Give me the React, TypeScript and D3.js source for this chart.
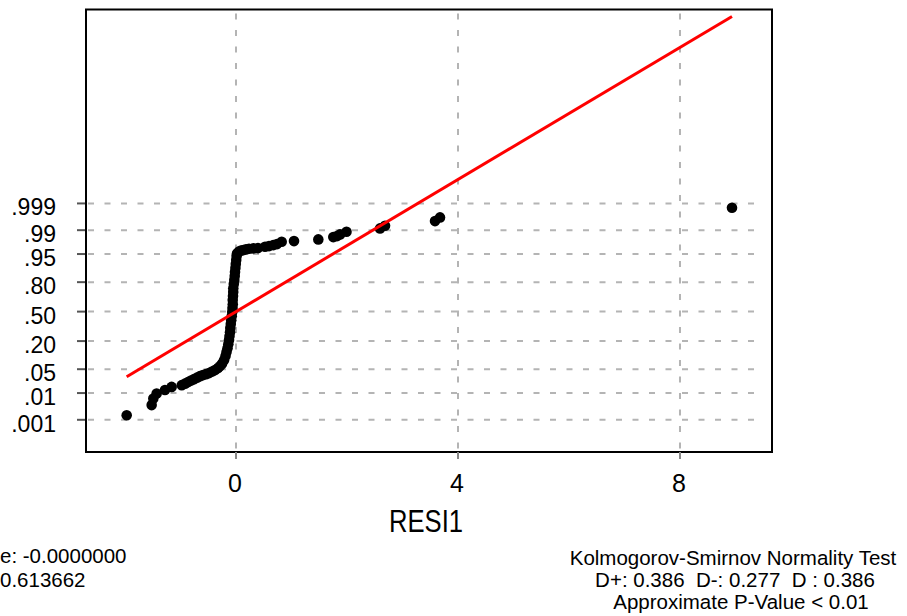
import React from "react";
import * as d3 from "d3";

// Residuals (RESI1) in ascending order with their normal scores
const residuals = [
  -1.97, -1.52, -1.49, -1.43, -1.28, -1.16,
  -0.978, -0.919, -0.865, -0.811, -0.757, -0.703, -0.649, -0.595, -0.541, -0.486,
  -0.432, -0.378, -0.324, -0.288, -0.252, -0.216, -0.189, -0.171, -0.153, -0.139,
  -0.126, -0.117, -0.108, -0.103, -0.094, -0.086, -0.077, -0.068,
  -0.063, -0.058, -0.059, -0.054, -0.05, -0.049, -0.04, -0.031, -0.023, -0.018,
  -0.011, -0.004, 0.004, 0.011, 0.018, 0.054, 0.09, 0.132, 0.18, 0.234, 0.312,
  0.396, 0.523, 0.595, 0.672, 0.739, 0.823, 1.045, 1.483, 1.753, 1.82, 1.874,
  1.991, 2.595, 2.685, 3.586, 3.676, 8.937,
];
const normalScores = [
  -2.96, -2.67, -2.48, -2.34, -2.24, -2.15,
  -2.1, -2.057, -2.014, -1.971, -1.929, -1.886, -1.843, -1.814, -1.786, -1.757,
  -1.714, -1.671, -1.614, -1.557, -1.486, -1.386, -1.271, -1.157, -1.043, -0.929,
  -0.814, -0.7, -0.586, -0.471, -0.357, -0.243, -0.129, -0.014,
  0.1, 0.214, 0.329, 0.443, 0.557, 0.671, 0.786, 0.9, 1.014, 1.129,
  1.243, 1.357, 1.471, 1.586, 1.663, 1.714, 1.743, 1.757, 1.777, 1.794, 1.806,
  1.814, 1.851, 1.871, 1.9, 1.929, 1.994, 2.014, 2.063, 2.129, 2.157, 2.206,
  2.28, 2.377, 2.451, 2.586, 2.691, 2.966,
];

// Fitted normal line
const fitMean = 0;
const fitSigma = 1.06;

// Axis ticks
const xTicks = [0, 4, 8];
const probTicks = [0.001, 0.01, 0.05, 0.2, 0.5, 0.8, 0.95, 0.99, 0.999];
const probTickLabels = [".001", ".01", ".05", ".20", ".50", ".80", ".95", ".99", ".999"];

// Summary text at the foot of the chart (left block runs off the page edge)
const statsLines = ["e: -0.0000000", "0.613662"];
const testLines = [
  "Kolmogorov-Smirnov Normality Test",
  "D+: 0.386  D-: 0.277  D : 0.386",
  "Approximate P-Value < 0.01",
];
const xTitle = "RESI1";

// Inverse standard normal CDF (Acklam's rational approximation)
function normInv(p: number): number {
  const a = [-3.969683028665376e1, 2.209460984245205e2, -2.759285104469687e2, 1.38357751867269e2, -3.066479806614716e1, 2.506628277459239];
  const b = [-5.447609879822406e1, 1.615858368580409e2, -1.556989798598866e2, 6.680131188771972e1, -1.328068155288572e1];
  const c = [-7.784894002430293e-3, -3.223964580411365e-1, -2.400758277161838, -2.549732539343734, 4.374664141464968, 2.938163982698783];
  const d = [7.784695709041462e-3, 3.224671290700398e-1, 2.445134137142996, 3.754408661907416];
  const plow = 0.02425;
  if (p < plow) {
    const q = Math.sqrt(-2 * Math.log(p));
    return (((((c[0] * q + c[1]) * q + c[2]) * q + c[3]) * q + c[4]) * q + c[5]) /
      ((((d[0] * q + d[1]) * q + d[2]) * q + d[3]) * q + 1);
  }
  if (p > 1 - plow) {
    const q = Math.sqrt(-2 * Math.log(1 - p));
    return -(((((c[0] * q + c[1]) * q + c[2]) * q + c[3]) * q + c[4]) * q + c[5]) /
      ((((d[0] * q + d[1]) * q + d[2]) * q + d[3]) * q + 1);
  }
  const q = p - 0.5;
  const r = q * q;
  return (((((a[0] * r + a[1]) * r + a[2]) * r + a[3]) * r + a[4]) * r + a[5]) * q /
    (((((b[0] * r + b[1]) * r + b[2]) * r + b[3]) * r + b[4]) * r + 1);
}

const W = 907;
const H = 616;
const frame = { left: 86, right: 772, top: 9.5, bottom: 452 };
const FONT = "'Liberation Sans', Arial, sans-serif";

export default function App() {
  const x = d3.scaleLinear().domain([-2.703, 9.658]).range([frame.left, frame.right]);
  const y = d3.scaleLinear().domain([-4.01, 8.63]).range([frame.bottom, frame.top]);

  const xMin = d3.min(residuals) as number;
  const xMax = d3.max(residuals) as number;
  const fitLine = d3.line<number>()
    .x((v) => x(v))
    .y((v) => y((v - fitMean) / fitSigma));

  const gridColor = "#b4b4b4";
  const dash = "6 10.5";
  const pre = { whiteSpace: "pre" as const };

  return (
    <svg width={W} height={H} style={{ position: "absolute", left: 0, top: 0, background: "#fff" }}
      fontFamily={FONT}>
      <rect x={0} y={0} width={W} height={H} fill="#fff" />

      {/* horizontal grid at probability ticks */}
      {probTicks.map((p, i) => (
        <line key={"hg" + i} x1={frame.left + 2} x2={frame.right - 8} y1={y(normInv(p))} y2={y(normInv(p))}
          stroke={gridColor} strokeWidth={2} strokeDasharray={dash} />
      ))}
      {/* vertical grid at x ticks */}
      {xTicks.map((t) => (
        <line key={"vg" + t} x1={x(t)} x2={x(t)} y1={frame.top + 4} y2={frame.bottom}
          stroke={gridColor} strokeWidth={2} strokeDasharray={dash} />
      ))}

      {/* frame */}
      <rect x={frame.left} y={frame.top} width={frame.right - frame.left} height={frame.bottom - frame.top}
        fill="none" stroke="#000" strokeWidth={2} />

      {/* y ticks and labels */}
      {probTicks.map((p, i) => {
        const yy = y(normInv(p));
        return (
          <g key={"yt" + i}>
            <line x1={frame.left - 9} x2={frame.left - 1} y1={yy} y2={yy} stroke="#555" strokeWidth={2} />
            <text x={56} y={yy + 12} textAnchor="end" fontSize={23} fill="#000">{probTickLabels[i]}</text>
          </g>
        );
      })}

      {/* x ticks and labels */}
      {xTicks.map((t) => (
        <g key={"xt" + t}>
          <line x1={x(t)} x2={x(t)} y1={frame.bottom} y2={frame.bottom + 7} stroke="#888" strokeWidth={2} />
          <text x={x(t) - 1} y={492} textAnchor="middle" fontSize={25} fill="#000">{t}</text>
        </g>
      ))}
      <text x={426} y={532} textAnchor="middle" fontSize={31} textLength={74} lengthAdjust="spacingAndGlyphs"
        fill="#000">{xTitle}</text>

      {/* data points */}
      {residuals.map((r, i) => (
        <circle key={"pt" + i} cx={x(r)} cy={y(normalScores[i])} r={5.3} fill="#000" />
      ))}

      {/* fitted line */}
      <path d={fitLine([xMin, xMax]) ?? ""} stroke="#ff0000" strokeWidth={3} fill="none" />

      {/* statistics */}
      <text x={0} y={563} fontSize={20.5} fill="#000" style={pre}>{statsLines[0]}</text>
      <text x={0} y={587} fontSize={20.5} fill="#000" style={pre}>{statsLines[1]}</text>
      <text x={733} y={565} textAnchor="middle" fontSize={20.5} fill="#000" style={pre}>{testLines[0]}</text>
      <text x={735} y={587} textAnchor="middle" fontSize={20.5} fill="#000" style={pre}>{testLines[1]}</text>
      <text x={741} y={609} textAnchor="middle" fontSize={20.5} fill="#000" style={pre}>{testLines[2]}</text>
    </svg>
  );
}
